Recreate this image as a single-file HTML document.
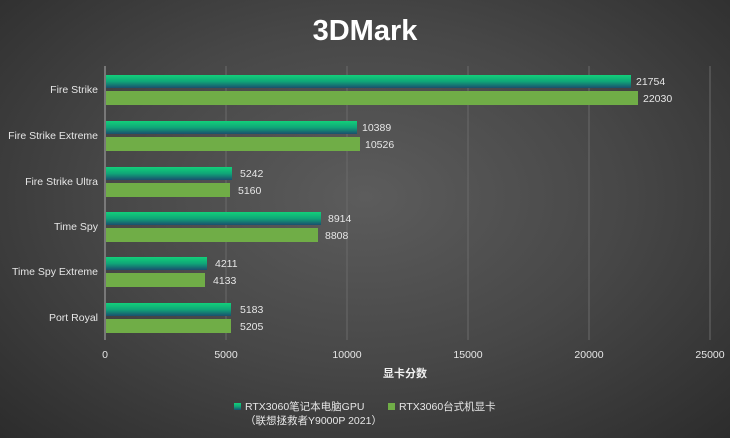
<!DOCTYPE html>
<html><head><meta charset="utf-8"><style>
html,body{margin:0;padding:0;}
body{width:730px;height:438px;overflow:hidden;background:radial-gradient(ellipse at 50% 45%,#5c5c5c 0%,#474747 50%,#2c2c2c 100%);}
svg{display:block;font-family:"Liberation Sans","Noto Sans CJK SC",sans-serif;}
</style></head><body>
<svg width="730" height="438" viewBox="0 0 730 438">
<defs>
<linearGradient id="g1" x1="0" y1="0" x2="0" y2="1">
<stop offset="0" stop-color="#12d07a"/><stop offset="0.5" stop-color="#10a678"/><stop offset="1" stop-color="#1a4f6e"/>
</linearGradient>
</defs>
<text x="365" y="40" text-anchor="middle" fill="#fff" font-size="29" font-weight="bold">3DMark</text>
<g stroke="#6a6a6a" stroke-width="1">
<line x1="226" y1="66" x2="226" y2="340"/><line x1="347" y1="66" x2="347" y2="340"/>
<line x1="468" y1="66" x2="468" y2="340"/><line x1="589" y1="66" x2="589" y2="340"/>
<line x1="710" y1="66" x2="710" y2="340"/>
</g>
<line x1="105" y1="66" x2="105" y2="340" stroke="#8a8a8a" stroke-width="1.5"/>
<g font-size="10.5" fill="#e6e6e6">
<!-- rows -->
<g transform="translate(0,89)">
<text x="98" y="4" text-anchor="end">Fire Strike</text>
<rect x="106" y="-14" width="525" height="13" fill="url(#g1)"/>
<rect x="106" y="2" width="532" height="14" fill="#70ad47"/>
<text x="636" y="-4">21754</text><text x="643" y="13">22030</text></g>
<g transform="translate(0,135)">
<text x="98" y="4" text-anchor="end">Fire Strike Extreme</text>
<rect x="106" y="-14" width="251" height="13" fill="url(#g1)"/>
<rect x="106" y="2" width="254" height="14" fill="#70ad47"/>
<text x="362" y="-4">10389</text><text x="365" y="13">10526</text></g>
<g transform="translate(0,181)">
<text x="98" y="4" text-anchor="end">Fire Strike Ultra</text>
<rect x="106" y="-14" width="126" height="13" fill="url(#g1)"/>
<rect x="106" y="2" width="124" height="14" fill="#70ad47"/>
<text x="240" y="-4">5242</text><text x="238" y="13">5160</text></g>
<g transform="translate(0,226)">
<text x="98" y="4" text-anchor="end">Time Spy</text>
<rect x="106" y="-14" width="215" height="13" fill="url(#g1)"/>
<rect x="106" y="2" width="212" height="14" fill="#70ad47"/>
<text x="328" y="-4">8914</text><text x="325" y="13">8808</text></g>
<g transform="translate(0,271)">
<text x="98" y="4" text-anchor="end">Time Spy Extreme</text>
<rect x="106" y="-14" width="101" height="13" fill="url(#g1)"/>
<rect x="106" y="2" width="99" height="14" fill="#70ad47"/>
<text x="215" y="-4">4211</text><text x="213" y="13">4133</text></g>
<g transform="translate(0,317)">
<text x="98" y="4" text-anchor="end">Port Royal</text>
<rect x="106" y="-14" width="125" height="13" fill="url(#g1)"/>
<rect x="106" y="2" width="125" height="14" fill="#70ad47"/>
<text x="240" y="-4">5183</text><text x="240" y="13">5205</text></g>
<g text-anchor="middle">
<text x="105" y="358">0</text><text x="226" y="358">5000</text><text x="347" y="358">10000</text>
<text x="468" y="358">15000</text><text x="589" y="358">20000</text><text x="710" y="358">25000</text>
</g>
<text x="405" y="377" text-anchor="middle" font-weight="bold" font-size="11" fill="#f0f0f0">显卡分数</text>
<rect x="234" y="403" width="7" height="7" fill="url(#g1)"/>
<text x="245" y="410">RTX3060笔记本电脑GPU</text>
<text x="245" y="424">（联想拯救者Y9000P 2021）</text>
<rect x="388" y="403" width="7" height="7" fill="#70ad47"/>
<text x="399" y="410">RTX3060台式机显卡</text>
</g>
</svg>
</body></html>
